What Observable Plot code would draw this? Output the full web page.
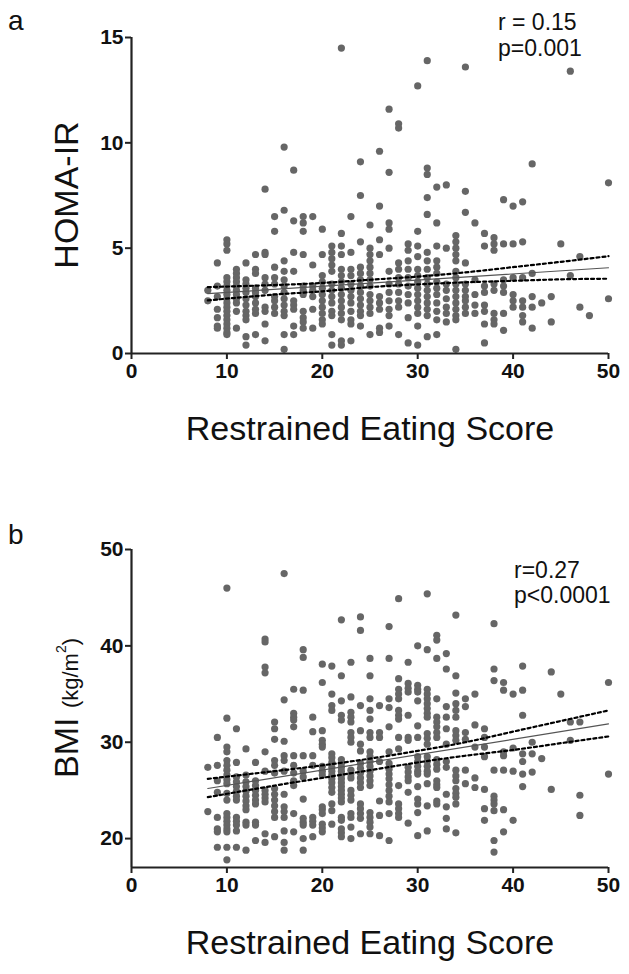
<!DOCTYPE html>
<html><head><meta charset="utf-8">
<script src="https://cdn.jsdelivr.net/npm/d3@7"></script>
<script src="https://cdn.jsdelivr.net/npm/@observablehq/plot@0.6"></script>
<style>
body{margin:0;background:#fff;}
#fig{position:relative;width:629px;height:974px;font-family:"Liberation Sans",Arial,sans-serif;}
#fig svg{display:block;}
#overlay{position:absolute;left:0;top:0;pointer-events:none;}
</style></head><body><div id="fig"></div>
<script>
// ---------- data ----------
const xTicks = [0, 10, 20, 30, 40, 50];
const homaTicks = [0, 5, 10, 15];
const bmiTicks = [20, 30, 40, 50];

// Panel a: HOMA-IR by restrained eating score (score, values)
const homaColumns = [
  [8, [3.0, 2.5]],
  [9, [4.3, 3.2, 2.7, 2.1, 1.7, 1.3, 1.2]],
  [10, [5.4, 5.2, 4.9, 3.6, 3.4, 3.2, 3.0, 2.8, 2.6, 2.4, 2.2, 2.0, 1.8, 1.6, 1.4, 1.2, 1.0, 0.9]],
  [11, [4.0, 3.8, 3.6, 3.4, 3.2, 3.0, 2.8, 2.6, 2.4, 2.0, 1.2]],
  [12, [4.3, 3.5, 3.3, 3.1, 2.9, 2.6, 2.3, 2.0, 1.8, 1.6, 0.8, 0.4]],
  [13, [4.7, 4.0, 3.8, 3.1, 2.9, 2.7, 2.4, 2.1, 1.9, 0.9]],
  [14, [7.8, 4.8, 4.7, 3.6, 3.3, 3.0, 2.2, 2.0, 1.4, 0.6]],
  [15, [6.5, 5.8, 4.1, 3.6, 3.3, 2.7, 2.5, 2.2, 1.9]],
  [16, [9.8, 6.8, 4.4, 3.9, 3.5, 3.2, 2.9, 2.6, 2.3, 2.0, 1.8, 0.9, 0.2]],
  [17, [8.7, 6.3, 4.8, 3.9, 2.5, 2.3, 2.1, 1.3, 0.9]],
  [18, [6.5, 6.2, 5.8, 4.7, 3.2, 3.0, 2.8, 2.0, 1.7, 1.5, 1.2]],
  [19, [6.5, 4.2, 3.2, 3.0, 2.7, 2.1, 1.2]],
  [20, [5.9, 4.7, 3.7, 3.4, 3.1, 2.8, 2.5, 2.2, 1.9, 1.6, 1.4]],
  [21, [5.1, 4.8, 4.5, 4.2, 3.9, 3.3, 3.0, 2.7, 2.4, 2.0, 1.8, 0.9, 0.4]],
  [22, [14.5, 5.7, 5.1, 4.7, 4.0, 3.7, 3.4, 3.1, 2.8, 2.5, 2.2, 1.9, 1.6, 0.6, 0.4]],
  [23, [6.5, 4.8, 4.0, 3.7, 3.3, 3.0, 2.7, 2.4, 2.0, 1.6, 1.4, 0.6]],
  [24, [9.1, 7.5, 5.3, 4.1, 3.8, 3.5, 3.2, 2.9, 2.6, 2.3, 2.0, 1.8, 1.3]],
  [25, [6.1, 5.0, 4.7, 4.4, 4.1, 3.8, 3.5, 3.2, 2.8, 2.5, 2.2, 1.9, 0.9]],
  [26, [9.6, 7.0, 5.4, 4.7, 2.7, 2.4, 2.1, 1.2, 1.0]],
  [27, [11.6, 8.6, 6.2, 5.9, 5.0, 3.9, 3.3, 2.9, 2.5, 2.1, 1.8, 1.3]],
  [28, [10.9, 10.7, 4.3, 4.0, 3.6, 3.3, 2.9, 2.5, 2.2, 0.9]],
  [29, [5.2, 4.9, 4.4, 4.0, 3.6, 3.2, 2.8, 2.4, 1.7, 0.5]],
  [30, [12.7, 5.8, 5.1, 4.6, 4.0, 3.7, 3.4, 3.1, 2.8, 2.5, 2.2, 1.9, 1.3, 0.4]],
  [31, [13.9, 8.8, 8.5, 7.4, 6.6, 4.8, 4.4, 4.0, 3.6, 3.3, 3.0, 2.7, 2.4, 2.1, 1.8, 0.8]],
  [32, [7.9, 6.2, 5.1, 4.4, 4.1, 3.8, 3.4, 3.1, 2.8, 2.4, 2.0, 1.6, 0.9]],
  [33, [8.0, 5.0, 3.3, 3.0, 2.6, 2.2, 1.9, 1.5]],
  [34, [5.6, 5.3, 5.0, 4.7, 4.4, 3.9, 3.6, 3.3, 3.0, 2.7, 2.4, 2.1, 1.8, 1.6, 0.2]],
  [35, [13.6, 7.7, 6.7, 4.3, 3.3, 3.0, 2.7, 2.5, 2.2, 1.9]],
  [36, [6.2, 3.5, 2.8, 2.3, 1.9]],
  [37, [5.7, 5.1, 3.2, 2.9, 2.3, 2.0, 1.4, 0.5]],
  [38, [5.5, 5.2, 4.9, 3.3, 3.0, 1.9, 1.6, 1.4]],
  [39, [7.3, 5.2, 3.5, 3.2, 2.9, 1.9, 1.1]],
  [40, [7.0, 5.2, 3.6, 2.8, 2.5, 2.2]],
  [41, [7.2, 5.3, 3.6, 2.5, 2.2, 1.8, 1.5]],
  [42, [9.0, 3.8, 2.7, 2.2, 1.2]],
  [43, [2.4]],
  [44, [2.7, 1.5]],
  [45, [5.2]],
  [46, [13.4, 3.7]],
  [47, [4.6, 2.2]],
  [48, [1.8]],
  [50, [8.1, 2.6]]
];

// Panel b: BMI by restrained eating score (score, values)
const bmiColumns = [
  [8, [27.4, 22.8]],
  [9, [30.5, 27.6, 26.0, 24.8, 22.2, 21.0, 20.7, 19.1]],
  [10, [46.0, 32.5, 29.5, 29.0, 28.1, 27.6, 27.1, 26.6, 26.1, 25.7, 24.7, 24.0, 22.6, 22.2, 21.8, 21.4, 21.0, 20.7, 19.1, 17.8]],
  [11, [31.4, 27.9, 26.4, 25.9, 25.4, 24.9, 24.4, 24.0, 22.2, 21.8, 21.4, 20.8, 19.1]],
  [12, [29.3, 26.6, 25.9, 25.4, 24.9, 24.4, 23.9, 23.4, 23.0, 21.7, 21.4, 18.8]],
  [13, [27.9, 26.0, 25.5, 25.0, 24.5, 24.0, 23.6, 21.7, 21.4, 19.8]],
  [14, [40.7, 40.4, 37.8, 37.2, 29.0, 27.0, 25.0, 24.6, 24.2, 23.8, 20.5, 19.6]],
  [15, [32.1, 31.4, 30.3, 28.1, 27.6, 26.8, 25.2, 24.6, 24.0, 23.4, 22.8, 22.2, 20.2]],
  [16, [47.5, 34.4, 30.1, 28.6, 28.1, 27.0, 24.6, 23.3, 22.8, 22.2, 20.8, 19.6, 18.8]],
  [17, [35.5, 33.0, 32.6, 32.3, 31.6, 28.6, 27.6, 26.8, 26.0, 25.5, 22.6, 20.7]],
  [18, [39.6, 38.8, 35.4, 28.6, 27.0, 26.4, 24.1, 22.1, 21.7, 21.4, 20.0, 18.8]],
  [19, [32.6, 31.1, 28.6, 27.6, 22.2, 21.8, 21.4, 20.2]],
  [20, [38.1, 36.2, 31.2, 30.2, 29.8, 29.5, 27.5, 27.0, 26.6, 23.3, 23.0, 22.6, 21.5, 21.1, 20.7]],
  [21, [37.9, 35.0, 33.8, 33.3, 28.8, 28.4, 27.9, 27.4, 27.0, 26.6, 26.2, 25.8, 25.3, 24.8, 23.6, 22.9, 21.5]],
  [22, [42.7, 36.9, 34.3, 32.8, 32.3, 28.2, 27.8, 27.4, 27.0, 26.6, 26.2, 25.8, 25.4, 25.0, 24.6, 24.2, 23.8, 22.2, 21.9, 21.0, 20.6, 20.2]],
  [23, [38.3, 34.7, 33.1, 32.6, 32.1, 31.0, 30.5, 30.0, 27.1, 26.7, 26.3, 25.0, 24.5, 24.0, 22.6, 22.2, 21.2, 20.0]],
  [24, [43.0, 41.6, 33.8, 31.2, 29.8, 29.1, 27.8, 27.3, 26.8, 26.3, 25.8, 25.3, 23.6, 23.1, 22.6, 22.1, 20.5]],
  [25, [38.7, 36.9, 34.5, 33.3, 32.4, 31.0, 30.5, 29.0, 28.5, 28.0, 27.5, 27.0, 26.5, 26.0, 25.5, 22.7, 22.2, 21.7, 21.2, 20.5]],
  [26, [33.8, 31.0, 30.5, 28.0, 23.9, 22.4, 20.3]],
  [27, [42.0, 38.7, 34.5, 33.6, 31.6, 29.0, 27.8, 27.2, 26.7, 26.2, 25.6, 25.0, 24.4, 23.8, 22.6, 19.8]],
  [28, [44.9, 36.6, 35.5, 35.0, 34.5, 33.3, 32.8, 32.4, 30.5, 29.3, 25.5, 23.6, 23.1, 22.6, 22.2]],
  [29, [38.3, 36.1, 35.6, 35.2, 32.8, 30.5, 30.2, 27.4, 26.9, 26.4, 26.0, 24.8, 21.6]],
  [30, [40.0, 35.9, 35.5, 35.2, 34.3, 31.7, 30.5, 28.5, 28.0, 27.5, 27.0, 26.7, 25.4, 24.1, 23.6, 22.7, 20.3]],
  [31, [45.4, 39.6, 35.5, 35.0, 34.5, 34.0, 33.5, 33.0, 32.6, 30.9, 30.4, 29.8, 28.5, 28.0, 27.5, 27.0, 26.7, 25.7, 23.4, 20.8]],
  [32, [41.1, 40.6, 38.7, 34.5, 32.6, 32.1, 31.6, 31.0, 30.5, 28.2, 27.7, 27.2, 26.0, 25.6, 25.3, 23.9, 23.6]],
  [33, [39.2, 37.6, 33.7, 32.6, 31.4, 29.8, 28.0, 27.4, 24.6, 23.3, 22.1, 21.0]],
  [34, [43.2, 36.9, 35.1, 34.0, 33.3, 32.6, 31.2, 30.7, 30.2, 27.1, 26.5, 26.0, 25.2, 24.7, 24.3, 23.6, 20.6]],
  [35, [34.5, 33.7, 31.0, 30.3, 27.1, 25.7]],
  [36, [35.0, 31.8, 29.5, 26.3, 25.3]],
  [37, [31.4, 30.5, 29.5, 28.5, 25.1, 23.1, 21.9]],
  [38, [42.3, 37.6, 36.4, 27.1, 24.4, 24.0, 23.6, 22.9, 19.8, 18.6]],
  [39, [36.2, 35.4, 29.0, 28.6, 27.1, 23.0, 20.7]],
  [40, [35.0, 29.4, 27.0, 21.9]],
  [41, [37.9, 35.4, 32.8, 28.8, 28.0, 26.7, 25.4]],
  [42, [30.0, 28.8, 26.9]],
  [43, [28.3]],
  [44, [37.3, 25.1]],
  [45, [35.0]],
  [46, [32.1, 30.2]],
  [47, [32.1, 24.5, 22.4]],
  [50, [36.2, 26.7]]
];

// Regression lines and 95% confidence bands (read at these scores)
const fitScores = [8, 50];
const homaFit = [2.84, 4.07];
const bmiFit = [25.2, 31.9];
const bandScores = [8, 15, 20, 25, 30, 35, 40, 45, 50];
const homaUpper = [3.15, 3.25, 3.35, 3.50, 3.65, 3.85, 4.10, 4.35, 4.62];
const homaLower = [2.52, 2.80, 2.95, 3.15, 3.28, 3.38, 3.45, 3.52, 3.55];
const bmiUpper = [26.2, 27.0, 27.6, 28.3, 29.1, 30.0, 31.1, 32.2, 33.3];
const bmiLower = [24.3, 25.5, 26.3, 27.1, 27.9, 28.6, 29.2, 29.9, 30.6];

// ---------- drawing ----------
const FONT = "'Liberation Sans', Arial, sans-serif";
const flat = cols => cols.flatMap(([s, vs]) => vs.map(v => ({score: s, value: v})));
const series = (xs, ys) => xs.map((x, i) => ({score: x, value: ys[i]}));

function panel({points, fit, upper, lower, yDomain, yTicks, height, marginTop, marginBottom}) {
  const [y0, y1] = yDomain;
  return Plot.plot({
    width: 629, height, marginLeft: 131, marginRight: 21, marginTop, marginBottom,
    x: {domain: [0, 50]},
    y: {domain: yDomain},
    style: {fontFamily: FONT, background: "transparent", overflow: "visible", color: "#111"},
    marks: [
      Plot.dot(flat(points), {x: "score", y: "value", r: 3.6, fill: "#666", stroke: "none"}),
      Plot.line(series(fitScores, fit), {x: "score", y: "value", stroke: "#555", strokeWidth: 1.2}),
      Plot.line(series(bandScores, upper), {x: "score", y: "value", stroke: "#000", strokeWidth: 2.2, strokeDasharray: "3,3", curve: "natural"}),
      Plot.line(series(bandScores, lower), {x: "score", y: "value", stroke: "#000", strokeWidth: 2.2, strokeDasharray: "3,3", curve: "natural"}),
      Plot.ruleX([0], {y1: y0, y2: y1, stroke: "#222", strokeWidth: 2.2}),
      Plot.ruleY([y0], {x1: 0, x2: 50, stroke: "#222", strokeWidth: 2.2}),
      Plot.axisX({ticks: xTicks, tickSize: 6, tickPadding: 4, fontSize: 21, fontWeight: "bold", label: null, strokeWidth: 2, stroke: "#222", fill: "#111"}),
      Plot.axisY({ticks: yTicks, tickSize: 6, tickPadding: 2, fontSize: 21, fontWeight: "bold", label: null, strokeWidth: 2, stroke: "#222", fill: "#111"})
    ]
  });
}

const fig = document.getElementById("fig");
fig.append(panel({points: homaColumns, fit: homaFit, upper: homaUpper, lower: homaLower,
  yDomain: [0, 15], yTicks: homaTicks, height: 470, marginTop: 37, marginBottom: 117}));
fig.append(panel({points: bmiColumns, fit: bmiFit, upper: bmiUpper, lower: bmiLower,
  yDomain: [17, 50], yTicks: bmiTicks, height: 504, marginTop: 79, marginBottom: 107}));

// text overlay: panel letters, statistics and axis titles
const svg = d3.select(fig).append("svg").attr("id", "overlay")
  .attr("width", 629).attr("height", 974).style("font-family", FONT).attr("fill", "#111");
const t = (x, y, s, size, anchor = "start") =>
  svg.append("text").attr("x", x).attr("y", y).attr("font-size", size).attr("text-anchor", anchor).text(s);
t(8, 30, "a", 28);
t(8, 544, "b", 28);
t(498, 30, "r = 0.15", 23);
t(498, 56, "p=0.001", 23);
t(514, 578, "r=0.27", 23);
t(514, 603, "p<0.0001", 23);
t(370, 440, "Restrained Eating Score", 34, "middle");
t(370, 954, "Restrained Eating Score", 34, "middle");
svg.append("text").attr("transform", "translate(78,195) rotate(-90)")
  .attr("text-anchor", "middle").attr("font-size", 34).text("HOMA-IR");
const bmi = svg.append("text").attr("transform", "translate(78,708) rotate(-90)")
  .attr("text-anchor", "middle").attr("font-size", 34);
bmi.append("tspan").text("BMI ");
bmi.append("tspan").attr("font-size", 22).text("(kg/m");
bmi.append("tspan").attr("font-size", 14).attr("dy", -12).text("2");
bmi.append("tspan").attr("font-size", 22).attr("dy", 12).text(")");
</script></body></html>
